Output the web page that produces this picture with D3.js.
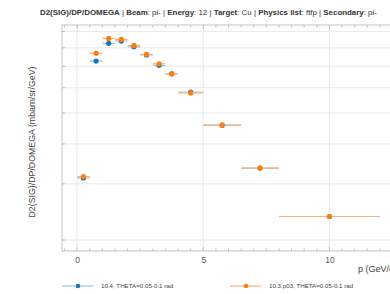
<!DOCTYPE html>
<html>
<head>
    <meta charset="utf-8">
    <script src="https://cdn.jsdelivr.net/npm/d3@7"></script>
    <style>
        * { margin: 0; padding: 0; }
        body { background: white; }
        svg { display: block; font-family: "Liberation Sans", Arial, sans-serif; }
    </style>
</head>
<body>
    <svg id="chart" width="390" height="294"></svg>
    <script>
        // momentum bins (GeV/c)
        var pCenter = [0.25, 0.75, 1.25, 1.75, 2.25, 2.75, 3.25, 3.75, 4.5, 5.75, 7.25, 10];
        var pLow = [0, 0.5, 1.0, 1.5, 2.0, 2.5, 3.0, 3.5, 4.0, 5.0, 6.5, 8.0];
        var pHigh = [0.5, 1.0, 1.5, 2.0, 2.5, 3.0, 3.5, 4.0, 5.0, 6.5, 8.0, 12.0];
        // d2sigma/dp/domega, mbarn/sr/GeV
        var v104 = [313, 727, 826, 840, 806, 760, 705, 663, 581, 458, 336, 237];
        var v103 = [316, 769, 856, 850, 814, 763, 713, 663, 578, 458, 336, 237];
        var seriesNames = ["10.4, THETA=0.05-0.1 rad", "10.3.p03, THETA=0.05-0.1 rad"];
        var xTicks = [0, 5, 10];
        var yGrid = [200, 300, 400, 500, 600, 700, 800, 900];

        var svg = d3.select("#chart");
        var m = { left: 62, top: 25, right: 395, bottom: 251 };

        var x = d3.scaleLinear().domain([-0.6, 12.6]).range([m.left, m.right]);
        var y = d3.scaleLog().domain([184.8, 943]).range([m.bottom, m.top]);
        var colors = ["#1f77b4", "#ff7f0e"];
        var barColors = ["#9ec3e6", "#f5b27a"];

        // title
        var title = svg.append("text")
            .attr("x", 40).attr("y", 15)
            .style("font-size", "7.9px")
            .style("fill", "#333");
        var parts = [["D2(SIG)/DP/DOMEGA", 1], [" | ", 0], ["Beam", 1], [": pi- | ", 0], ["Energy", 1], [": 12 | ", 0],
            ["Target", 1], [": Cu | ", 0], ["Physics list", 1], [": ftfp | ", 0], ["Secondary", 1], [": pi-", 0]];
        parts.forEach(function (p) {
            title.append("tspan").text(p[0]).style("font-weight", p[1] ? "bold" : "normal");
        });

        // grid
        svg.append("g").selectAll("line").data(yGrid).enter().append("line")
            .attr("x1", m.left).attr("x2", m.right)
            .attr("y1", function (d) { return y(d); }).attr("y2", function (d) { return y(d); })
            .attr("stroke", "#e3e3e3").attr("stroke-width", 0.8);
        svg.append("g").selectAll("line").data(xTicks).enter().append("line")
            .attr("y1", m.top).attr("y2", m.bottom)
            .attr("x1", function (d) { return x(d); }).attr("x2", function (d) { return x(d); })
            .attr("stroke", "#e3e3e3").attr("stroke-width", 0.8);

        // frame
        svg.append("rect")
            .attr("x", m.left).attr("y", m.top)
            .attr("width", m.right - m.left).attr("height", m.bottom - m.top)
            .attr("fill", "none").attr("stroke", "#b5b5b5").attr("stroke-width", 0.8);

        // x axis ticks (bottom + mirrored top)
        var minor = d3.range(-0.5, 12.6, 0.5);
        var xAxis = d3.axisBottom(x).tickValues(xTicks).tickSize(0).tickPadding(6).tickFormat(d3.format("d"));
        var gx = svg.append("g").attr("transform", "translate(0," + m.bottom + ")").call(xAxis);
        gx.select(".domain").remove();
        gx.selectAll("text").style("font-size", "8.5px").style("fill", "#555")
            .style("font-family", "Liberation Sans, Arial, sans-serif");
        [m.bottom, m.top].forEach(function (yy, k) {
            svg.append("g").selectAll("line").data(minor).enter().append("line")
                .attr("x1", function (d) { return x(d); }).attr("x2", function (d) { return x(d); })
                .attr("y1", yy).attr("y2", function (d) {
                    var len = (d % 5 === 0) ? 4 : 2.5;
                    return k === 0 ? yy - len : yy + len;
                })
                .attr("stroke", "#aaa").attr("stroke-width", 0.7);
        });
        svg.append("g").selectAll("line").data(yGrid).enter().append("line")
            .attr("x1", m.left).attr("x2", m.left + 3)
            .attr("y1", function (d) { return y(d); }).attr("y2", function (d) { return y(d); })
            .attr("stroke", "#aaa").attr("stroke-width", 0.7);

        // axis titles (x title runs off the right edge, as in the original)
        svg.append("text")
            .attr("x", 358).attr("y", 272)
            .style("font-size", "9px").style("fill", "#444")
            .text("p (GeV/c)");
        svg.append("text")
            .attr("transform", "translate(35,142) rotate(-90)")
            .attr("text-anchor", "middle")
            .style("font-size", "8.8px").style("fill", "#444")
            .text("D2(SIG)/DP/DOMEGA (mbarn/sr/GeV)");

        // data
        [v104, v103].forEach(function (vals, s) {
            var rows = pCenter.map(function (p, i) {
                return { p: p, lo: pLow[i], hi: pHigh[i], v: vals[i] };
            });
            var g = svg.append("g");
            g.selectAll("line").data(rows).enter().append("line")
                .attr("x1", function (d) { return x(d.lo); })
                .attr("x2", function (d) { return x(d.hi); })
                .attr("y1", function (d) { return y(d.v); })
                .attr("y2", function (d) { return y(d.v); })
                .attr("stroke", barColors[s]).attr("stroke-width", 1.2);
            g.selectAll("circle").data(rows).enter().append("circle")
                .attr("cx", function (d) { return x(d.p); })
                .attr("cy", function (d) { return y(d.v); })
                .attr("r", 2.6)
                .attr("fill", colors[s]);
        });

        // legend
        var legX = [62, 230];
        seriesNames.forEach(function (name, s) {
            var g = svg.append("g").attr("transform", "translate(" + legX[s] + ",286)");
            g.append("line").attr("x1", 0).attr("x2", 31).attr("y1", 0).attr("y2", 0)
                .attr("stroke", barColors[s]).attr("stroke-width", 1.2);
            g.append("circle").attr("cx", 16).attr("cy", 0).attr("r", 2.3).attr("fill", colors[s]);
            g.append("text").attr("x", 39).attr("y", 2.2)
                .style("font-size", "6.2px").style("fill", "#444")
                .text(name);
        });
    </script>
</body>
</html>
